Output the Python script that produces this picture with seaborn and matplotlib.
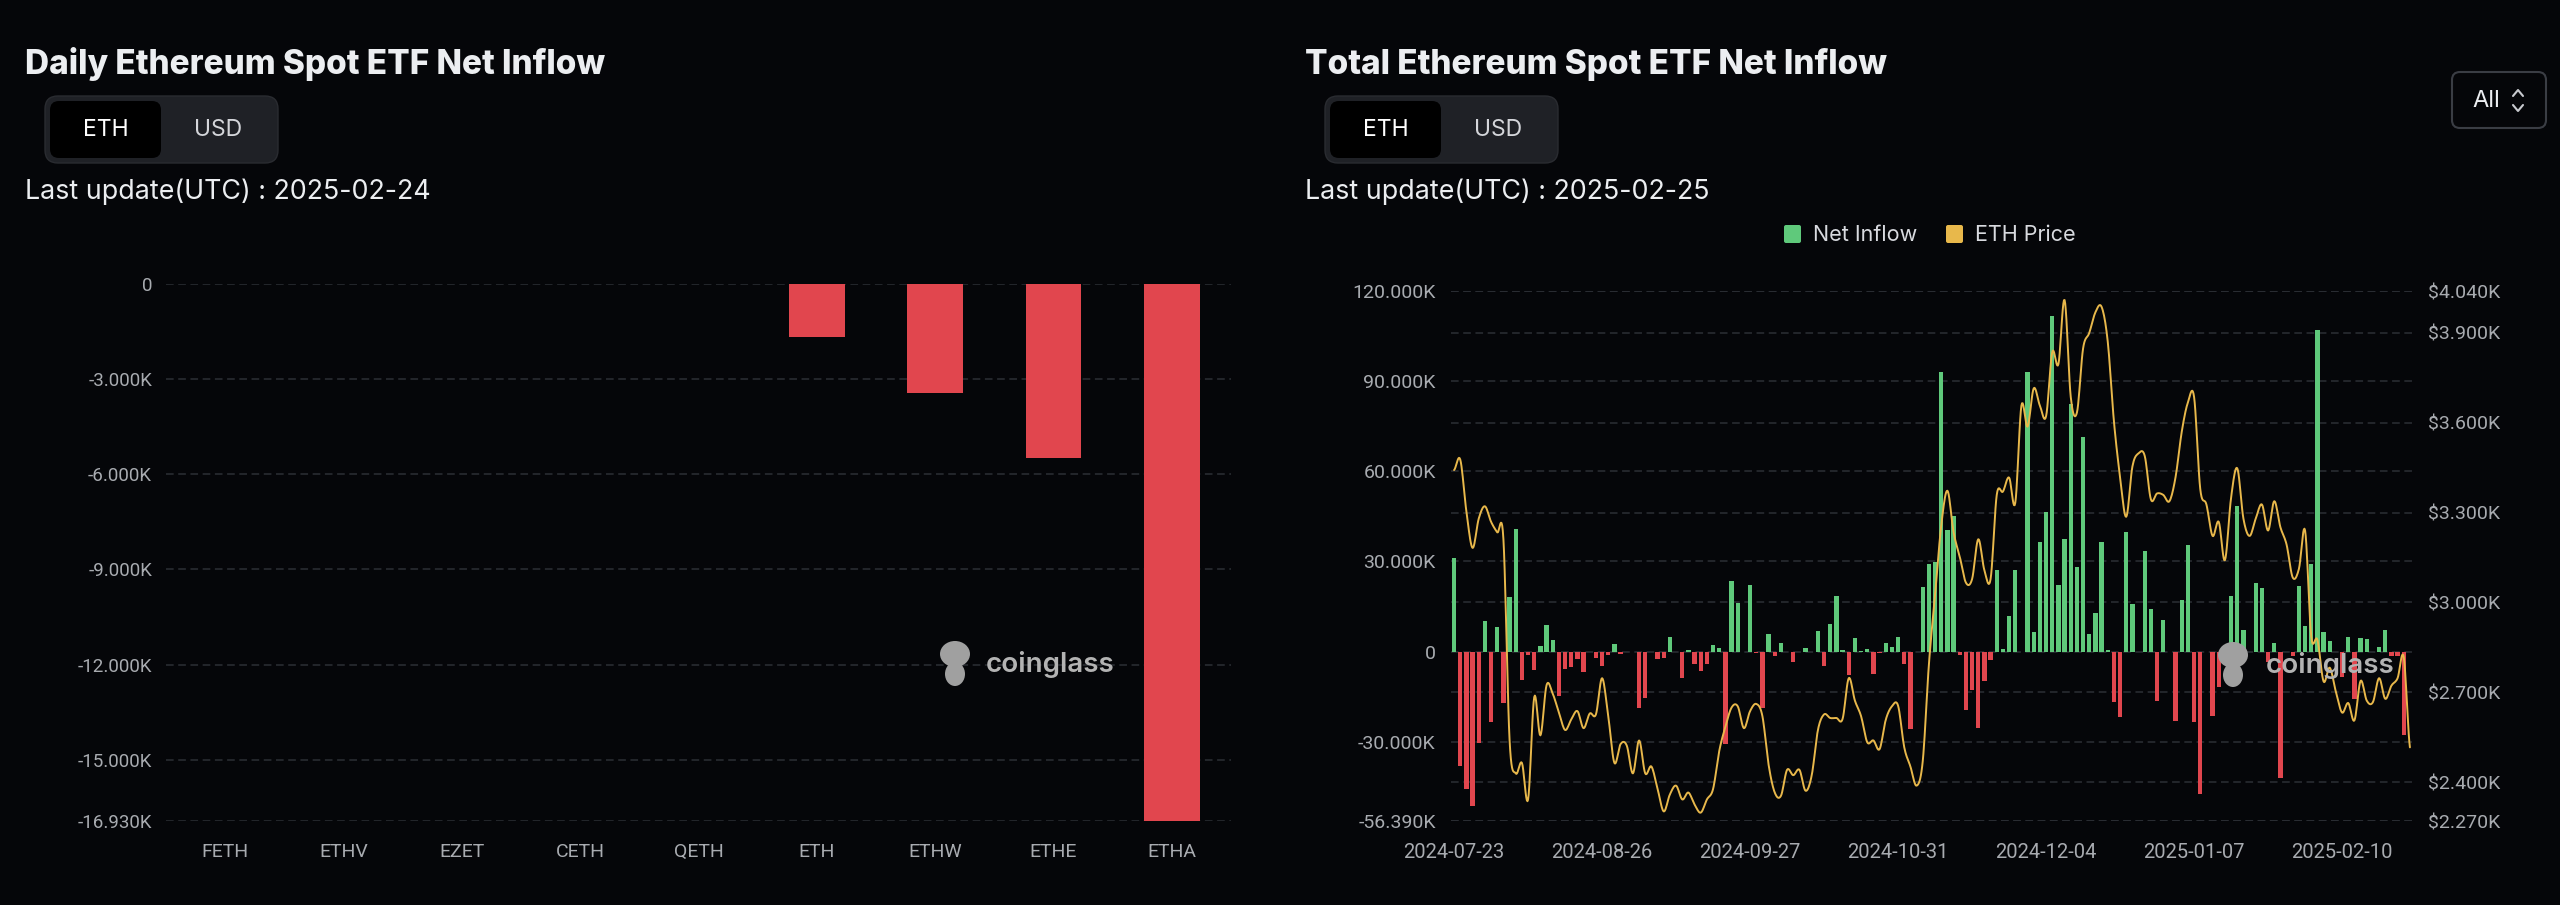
import numpy as np
import pandas as pd
import matplotlib
matplotlib.use("Agg")
import matplotlib.pyplot as plt
from matplotlib.patches import FancyBboxPatch, Ellipse
import seaborn as sns

W, H = 2560, 905
BG = "#050609"
GREEN = "#5fc97b"
RED = "#e1464e"
GOLD = "#e8b84b"
GRID = "#2c2f35"
TICK = "#a8abb0"
WHITE = "#eceef1"

# ---- left chart: flows per ETF on the last day (thousand ETH)
daily_tickers = ["FETH", "ETHV", "EZET", "CETH", "QETH", "ETH", "ETHW", "ETHE", "ETHA"]
daily_flow_k = [0, 0, 0, 0, 0, -1.66, -3.45, -5.49, -16.93]
daily_ticks_k = [0, -3, -6, -9, -12, -15, -16.93]

# ---- right chart: every weekday 2024-07-23 .. 2025-02-25
total_dates = pd.bdate_range("2024-07-23", "2025-02-25")
net_inflow_k = [
    31.1, -38.2, -45.7, -51.3, -30.3, 10.1, -23.6, 8.3, -17.1, 18.2,
    40.8, -9.6, -1.3, -6.0, 1.9, 8.9, 4.0, -14.7, -5.8, -5.1,
    -2.6, -6.9, -0.3, -2.2, -4.9, -1.3, 2.5, -0.7, 0, 0,
    -18.7, -15.4, -0.2, -2.6, -2.2, 4.9, -0.3, -8.7, 0.6, -4.1,
    -6.5, -4.1, 2.2, 1.2, -30.9, 23.5, 16.1, 0, 22.2, -0.4,
    -18.7, 5.7, -1.4, 3.0, 0, -3.4, 0, 1.2, 0, 6.9,
    -4.9, 9.2, 18.5, 0.6, -7.7, 4.4, 0.3, 0.9, -7.6, -0.5,
    2.9, 1.6, 4.9, -4.3, -25.8, 0, 21.5, 29.2, 29.7, 92.9,
    40.4, 45.1, -1.1, -19.6, -12.7, -25.4, -9.8, -2.8, 27.3, 0.7,
    11.8, 27.0, 0, 93.0, 6.4, 36.4, 46.3, 111.7, 22.1, 37.4,
    82.3, 28.1, 71.5, 6.0, 12.7, 36.3, 0.5, -16.8, -21.9, 39.8,
    15.7, 0, 33.5, 14.3, -16.6, 10.6, 0, -23.0, 17.1, 35.4,
    -23.6, -47.3, 0, -21.3, -11.9, -2.0, 18.5, 48.3, 7.3, 0,
    22.7, 21.3, -3.4, 2.7, -42.0, 0, -1.5, 21.8, 8.5, 29.1,
    106.9, 6.5, 3.6, 0, -8.4, 4.8, -15.7, 4.6, 4.2, 0,
    1.6, 7.1, -1.6, -1.6, -27.7, 0,
]
eth_price = [
    3442, 3477, 3303, 3182, 3280, 3321, 3269, 3234, 3211, 2540,
    2429, 2464, 2342, 2684, 2556, 2724, 2695, 2632, 2574, 2609,
    2637, 2580, 2629, 2626, 2747, 2620, 2464, 2527, 2522, 2429,
    2539, 2429, 2452, 2377, 2302, 2359, 2388, 2342, 2365, 2325,
    2298, 2342, 2377, 2504, 2585, 2649, 2653, 2580, 2637, 2661,
    2620, 2458, 2365, 2354, 2441, 2423, 2441, 2371, 2423, 2574,
    2626, 2614, 2614, 2611, 2747, 2672, 2620, 2533, 2539, 2510,
    2608, 2653, 2655, 2516, 2452, 2388, 2470, 2794, 3025, 3257,
    3373, 3234, 3153, 3066, 3078, 3211, 3107, 3078, 3359, 3370,
    3417, 3332, 3657, 3587, 3715, 3657, 3622, 3836, 3796, 4010,
    3686, 3634, 3848, 3900, 3969, 3987, 3871, 3605, 3419, 3286,
    3454, 3498, 3489, 3344, 3364, 3359, 3338, 3419, 3570, 3668,
    3686, 3379, 3327, 3222, 3269, 3141, 3350, 3448, 3280, 3222,
    3280, 3327, 3240, 3338, 3251, 3193, 3083, 3112, 3240, 2886,
    2875, 2736, 2782, 2701, 2632, 2664, 2606, 2738, 2672, 2667,
    2747, 2678, 2722, 2747, 2817, 2516,
]
flow_ticks_k = [-56.39, -30, 0, 30, 60, 90, 120]
price_ticks = [2270, 2400, 2700, 3000, 3300, 3600, 3900, 4040]
date_tick_pos = [0, 24, 48, 72, 96, 120, 144]


def fmt_k(v):
    return "0" if v == 0 else f"{v:.3f}K"


def smooth_line(y, steps=10):
    """Catmull-Rom curve through the daily points (for drawing only)."""
    y = np.asarray(y, float)
    p = np.concatenate([[y[0]], y, [y[-1]]])
    t = np.linspace(0, 1, steps, endpoint=False)
    xs, ys = [], []
    for i in range(len(y) - 1):
        p0, p1, p2, p3 = p[i], p[i + 1], p[i + 2], p[i + 3]
        seg = 0.5 * (2 * p1 + (-p0 + p2) * t + (2 * p0 - 5 * p1 + 4 * p2 - p3) * t ** 2
                     + (-p0 + 3 * p1 - 3 * p2 + p3) * t ** 3)
        xs.append(i + t)
        ys.append(seg)
    xs.append([len(y) - 1])
    ys.append([y[-1]])
    return np.concatenate(xs), np.concatenate(ys)


def style_axis(ax):
    for s in ax.spines.values():
        s.set_visible(False)
    ax.set_facecolor("none")
    ax.set_xlabel("")
    ax.set_ylabel("")
    ax.tick_params(length=0, colors=TICK, labelsize=13.5)


sns.set_theme(style="dark")
plt.rcParams["font.family"] = ["Roboto", "DejaVu Sans"]

fig = plt.figure(figsize=(W / 100, H / 100), dpi=100, facecolor=BG)

# ---------------- left chart
ax1 = fig.add_axes([166 / W, 1 - 821 / H, 1065 / W, 537 / H])
sns.barplot(x=daily_tickers, y=daily_flow_k, color=RED, width=0.47,
            saturation=1, errorbar=None, ax=ax1, zorder=3,
            edgecolor="none", linewidth=0)
style_axis(ax1)
ax1.set_xlim(-0.5, len(daily_tickers) - 0.5)
ax1.set_ylim(min(daily_ticks_k), 0)
ax1.set_yticks(daily_ticks_k)
ax1.set_yticklabels([fmt_k(v) for v in daily_ticks_k])
ax1.tick_params(axis="y", pad=10)
ax1.tick_params(axis="x", pad=16, labelsize=14)
ax1.grid(axis="y", color=GRID, linestyle=(0, (5, 3)), linewidth=1.1, zorder=0)
ax1.grid(axis="x", visible=False)
ax1.set_axisbelow(True)

# ---------------- right chart
rect = [1451 / W, 1 - 821 / H, 962 / W, 530 / H]
ax_pg = fig.add_axes(rect)          # price grid + right labels (underneath)
ax2 = fig.add_axes(rect)            # net inflow bars
ax3 = fig.add_axes(rect)            # price line on top

date_labels = [d.strftime("%Y-%m-%d") for d in total_dates]
bar_colors = {d: (GREEN if v >= 0 else RED) for d, v in zip(date_labels, net_inflow_k)}
sns.barplot(x=date_labels, y=net_inflow_k, hue=date_labels, palette=bar_colors,
            dodge=False, width=0.68, saturation=1, errorbar=None, legend=False,
            ax=ax2, zorder=3, edgecolor="none", linewidth=0)
style_axis(ax2)
n = len(date_labels)
ax2.set_xlim(-0.5, n - 0.5)
ax2.set_ylim(flow_ticks_k[0], flow_ticks_k[-1])
ax2.set_yticks(flow_ticks_k)
ax2.set_yticklabels([fmt_k(v) for v in flow_ticks_k])
ax2.set_xticks(date_tick_pos)
ax2.set_xticklabels([date_labels[i] for i in date_tick_pos])
ax2.tick_params(axis="y", pad=11, labelsize=14)
ax2.tick_params(axis="x", pad=16, labelsize=14.5)
ax2.grid(axis="y", color=GRID, linestyle=(0, (5, 3)), linewidth=1.1, zorder=0)
ax2.grid(axis="x", visible=False)
ax2.set_axisbelow(True)

for ax in (ax_pg, ax3):
    ax.set_xlim(-0.5, n - 0.5)
    ax.set_ylim(price_ticks[0], price_ticks[-1])
    style_axis(ax)
    ax.set_xticks([])

ax_pg.yaxis.tick_right()
ax_pg.set_yticks(price_ticks)
ax_pg.set_yticklabels([f"${v / 1000:.3f}K" for v in price_ticks])
ax_pg.tick_params(axis="y", pad=11, labelsize=14)
ax_pg.grid(axis="y", color=GRID, linestyle=(0, (5, 3)), linewidth=1.1)
ax_pg.grid(axis="x", visible=False)
ax_pg.set_zorder(0)
ax2.set_zorder(1)
ax3.set_zorder(2)
ax3.set_yticks([])
ax3.grid(False)

xs, ys = smooth_line(eth_price)
ax3.plot(xs, ys, color=GOLD, linewidth=1.4)

# ---------------- page furniture (pixel coordinates)
deco = fig.add_axes([0, 0, 1, 1])
deco.set_xlim(0, W)
deco.set_ylim(H, 0)
deco.axis("off")
deco.set_zorder(10)

TITLE_FONT = ["Inter", "DejaVu Sans"]
for x0, title, stamp in [(25, "Daily Ethereum Spot ETF Net Inflow", "2025-02-24"),
                         (1305, "Total Ethereum Spot ETF Net Inflow", "2025-02-25")]:
    deco.text(x0, 74, title, fontsize=24, fontweight="heavy", color=WHITE,
              family=TITLE_FONT, va="baseline", ha="left")
    deco.text(x0, 199, f"Last update(UTC) : {stamp}", fontsize=19.3, color=WHITE,
              family=TITLE_FONT, va="baseline", ha="left")
    bx = x0 + 20
    deco.add_patch(FancyBboxPatch((bx, 96), 233, 67, boxstyle="round,pad=0,rounding_size=13",
                                  fc="#1f2126", ec="#2a2c31", lw=1))
    deco.add_patch(FancyBboxPatch((bx + 5, 101), 111, 57, boxstyle="round,pad=0,rounding_size=9",
                                  fc="#000000", ec="none"))
    deco.text(bx + 61, 130, "ETH", fontsize=16.5, color="#ffffff", family=TITLE_FONT,
              ha="center", va="center")
    deco.text(bx + 173, 130, "USD", fontsize=16.5, color="#d4d6da", family=TITLE_FONT,
              ha="center", va="center")

# "All" range selector
deco.add_patch(FancyBboxPatch((2452, 72), 94, 56, boxstyle="round,pad=0,rounding_size=8",
                              fc=BG, ec="#3a3d44", lw=1.5))
deco.text(2472, 101, "All", fontsize=17, color=WHITE, family=TITLE_FONT,
          ha="left", va="center")
deco.plot([2513, 2518, 2523], [96, 90, 96], color="#c8cacf", lw=1.5)
deco.plot([2513, 2518, 2523], [105, 111, 105], color="#c8cacf", lw=1.5)

# legend
for sx, col, lab in [(1784, GREEN, "Net Inflow"), (1946, GOLD, "ETH Price")]:
    deco.add_patch(FancyBboxPatch((sx, 225), 17, 18, boxstyle="round,pad=0,rounding_size=2",
                                  fc=col, ec="none"))
    deco.text(sx + 29, 235, lab, fontsize=15.5, color="#d8dadf", family=TITLE_FONT,
              ha="left", va="center")

# coinglass watermarks
for ix, tx, ty in [(955, 986, 664), (2233, 2266, 665)]:
    deco.add_patch(Ellipse((ix, ty - 10), 30, 26, fc="#a0a0a0", ec="none"))
    deco.add_patch(Ellipse((ix, ty + 10), 20, 24, fc="#a0a0a0", ec="none"))
    deco.text(tx, ty, "coinglass", fontsize=20, fontweight="semibold", color="#b3b3b3",
              family=TITLE_FONT, ha="left", va="center")

fig.savefig("out.png", dpi=100, facecolor=BG)
